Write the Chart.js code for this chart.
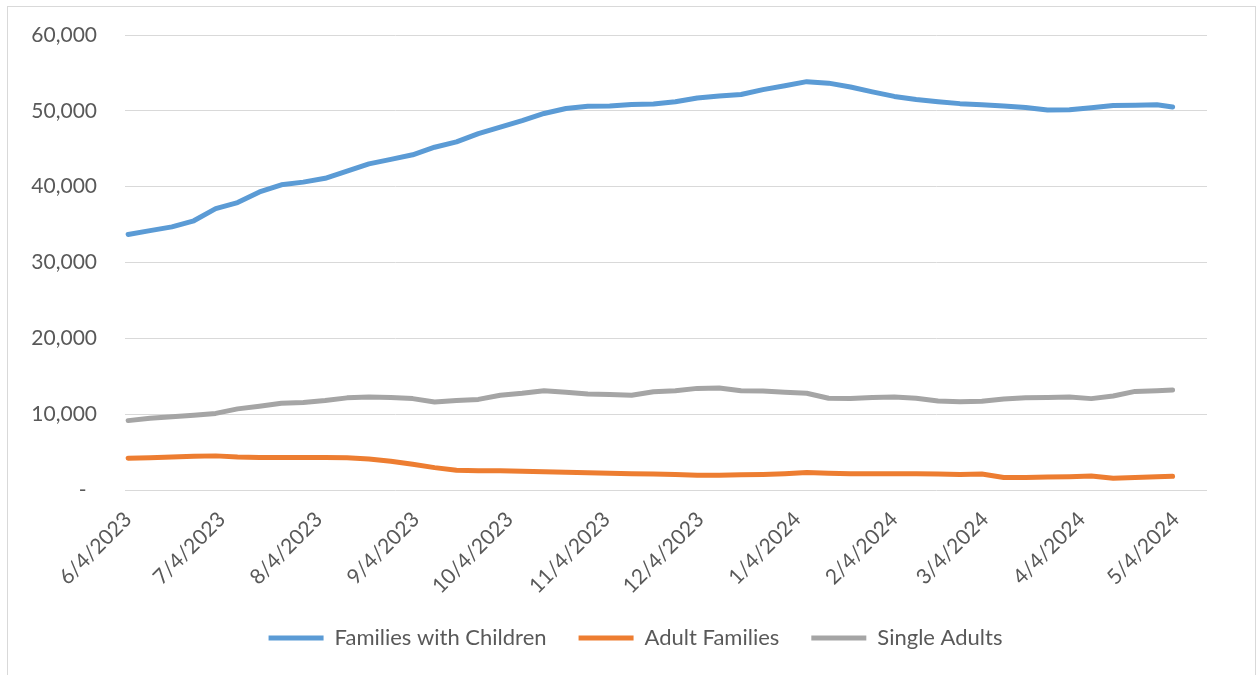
<!DOCTYPE html>
<html>
<head>
<meta charset="utf-8">
<script src="https://cdn.jsdelivr.net/npm/chart.js@4.4.1/dist/chart.umd.min.js"></script>
<style>
  html, body { margin: 0; padding: 0; background: #fff; }
  #marco { position: absolute; left: 7px; top: 6px; width: 1247px; height: 700px; border: 1px solid #d9d9d9; }
  #contenedor { position: absolute; left: 0; top: 0; width: 1257px; height: 675px; }
</style>
</head>
<body>
<div id="marco"></div>
<div id="contenedor"><canvas id="graficaRefugio"></canvas></div>
<script>
// weekly dates of the counts
const fechas = [
  '6/4/2023', '6/11/2023', '6/18/2023', '6/25/2023', '7/2/2023', '7/9/2023', '7/16/2023', '7/23/2023',
  '7/30/2023', '8/6/2023', '8/13/2023', '8/20/2023', '8/27/2023', '9/3/2023', '9/10/2023', '9/17/2023',
  '9/24/2023', '10/1/2023', '10/8/2023', '10/15/2023', '10/22/2023', '10/29/2023', '11/5/2023', '11/12/2023',
  '11/19/2023', '11/26/2023', '12/3/2023', '12/10/2023', '12/17/2023', '12/24/2023', '12/31/2023', '1/7/2024',
  '1/14/2024', '1/21/2024', '1/28/2024', '2/4/2024', '2/11/2024', '2/18/2024', '2/25/2024', '3/3/2024',
  '3/10/2024', '3/17/2024', '3/24/2024', '3/31/2024', '4/7/2024', '4/14/2024', '4/21/2024', '4/28/2024',
  '5/3/2024'
];

const familiesWithChildren = [
  33700, 34200, 34700, 35500, 37100, 37900, 39300, 40250, 40600, 41100,
  42050, 43000, 43600, 44200, 45200, 45900, 47000, 47850, 48700, 49650,
  50300, 50600, 50650, 50850, 50900, 51200, 51700, 51950, 52150, 52800,
  53300, 53850, 53650, 53150, 52500, 51900, 51500, 51200, 50950, 50800,
  50650, 50450, 50100, 50150, 50400, 50700, 50750, 50800, 50500
];

const adultFamilies = [
  4200, 4250, 4350, 4450, 4500, 4350, 4300, 4300, 4300, 4300,
  4250, 4100, 3800, 3400, 2950, 2600, 2550, 2550, 2480, 2400,
  2330, 2270, 2200, 2150, 2100, 2050, 1950, 1950, 2000, 2050,
  2150, 2300, 2200, 2150, 2150, 2150, 2150, 2100, 2050, 2100,
  1650, 1650, 1700, 1750, 1850, 1550, 1650, 1750, 1800
];

const singleAdults = [
  9150, 9450, 9650, 9850, 10100, 10700, 11050, 11450, 11550, 11800,
  12150, 12250, 12200, 12050, 11600, 11800, 11950, 12500, 12750, 13100,
  12900, 12650, 12600, 12500, 12950, 13100, 13400, 13450, 13100, 13050,
  12900, 12750, 12100, 12050, 12200, 12250, 12100, 11750, 11650, 11700,
  12000, 12150, 12200, 12250, 12050, 12400, 13000, 13100, 13200
];

// monthly labels on the date axis
const etiquetasX = [
  '6/4/2023', '7/4/2023', '8/4/2023', '9/4/2023', '10/4/2023', '11/4/2023',
  '12/4/2023', '1/4/2024', '2/4/2024', '3/4/2024', '4/4/2024', '5/4/2024'
];

const ticksY = [0, 10000, 20000, 30000, 40000, 50000, 60000];

// days since the first date, so months keep their real length
function diaDe(texto) {
  const p = texto.split('/').map(Number);
  return Date.UTC(p[2], p[0] - 1, p[1]) / 86400000;
}
const dia0 = diaDe(fechas[0]);
const dias = fechas.map(f => diaDe(f) - dia0);
const diasTicks = etiquetasX.map(f => diaDe(f) - dia0);

function puntos(valores) {
  return valores.map((v, i) => ({ x: dias[i], y: v }));
}

const gris = '#595959';
const fuente = { family: 'Lato, "Open Sans", sans-serif', size: 21 };

function serie(nombre, valores, color) {
  return {
    label: nombre,
    data: puntos(valores),
    borderColor: color,
    backgroundColor: color,
    borderWidth: 5,
    borderCapStyle: 'round',
    borderJoinStyle: 'round',
    pointRadius: 0,
    pointHoverRadius: 0,
    tension: 0,
    fill: false
  };
}

// the legend sits centred on the whole frame, not only left of the right padding
const moverLeyenda = {
  id: 'moverLeyenda',
  afterLayout(chart) {
    if (chart.legend) {
      chart.legend.left += 32;
      chart.legend.right += 32;
    }
  }
};

const ctx = document.getElementById('graficaRefugio').getContext('2d');
const grafica = new Chart(ctx, {
  type: 'line',
  data: {
    datasets: [
      serie('Families with Children', familiesWithChildren, '#5B9BD5'),
      serie('Adult Families', adultFamilies, '#ED7D31'),
      serie('Single Adults', singleAdults, '#A5A5A5')
    ]
  },
  plugins: [moverLeyenda],
  options: {
    responsive: true,
    maintainAspectRatio: false,
    animation: false,
    layout: { padding: { top: 35, right: 50, bottom: 16, left: 0 } },
    plugins: {
      tooltip: { enabled: false },
      legend: {
        position: 'bottom',
        labels: {
          usePointStyle: true,
          pointStyle: 'line',
          pointStyleWidth: 55,
          padding: 32,
          color: gris,
          font: { family: fuente.family, size: 22 }
        }
      }
    },
    scales: {
      x: {
        type: 'linear',
        min: -1,
        max: 345,
        grid: { display: false },
        border: { display: false },
        afterBuildTicks: eje => { eje.ticks = diasTicks.map(d => ({ value: d })); },
        afterFit: eje => { eje.height = 105; },
        ticks: {
          autoSkip: false,
          minRotation: 45,
          maxRotation: 45,
          padding: 9,
          color: gris,
          font: fuente,
          callback: valor => etiquetasX[diasTicks.indexOf(valor)]
        }
      },
      y: {
        min: 0,
        max: 60000,
        afterBuildTicks: eje => { eje.ticks = ticksY.map(v => ({ value: v })); },
        afterFit: eje => { eje.width = 125; },
        // invisible tick marks keep the labels away from the plot
        grid: { color: '#d9d9d9', lineWidth: 1, drawTicks: true, tickLength: 28, tickColor: 'rgba(0,0,0,0)' },
        border: { display: false },
        ticks: {
          padding: 0,
          color: gris,
          font: fuente,
          callback: valor => valor === 0 ? '-\u2002' : valor.toLocaleString('en-US')
        }
      }
    }
  }
});
</script>
</body>
</html>
